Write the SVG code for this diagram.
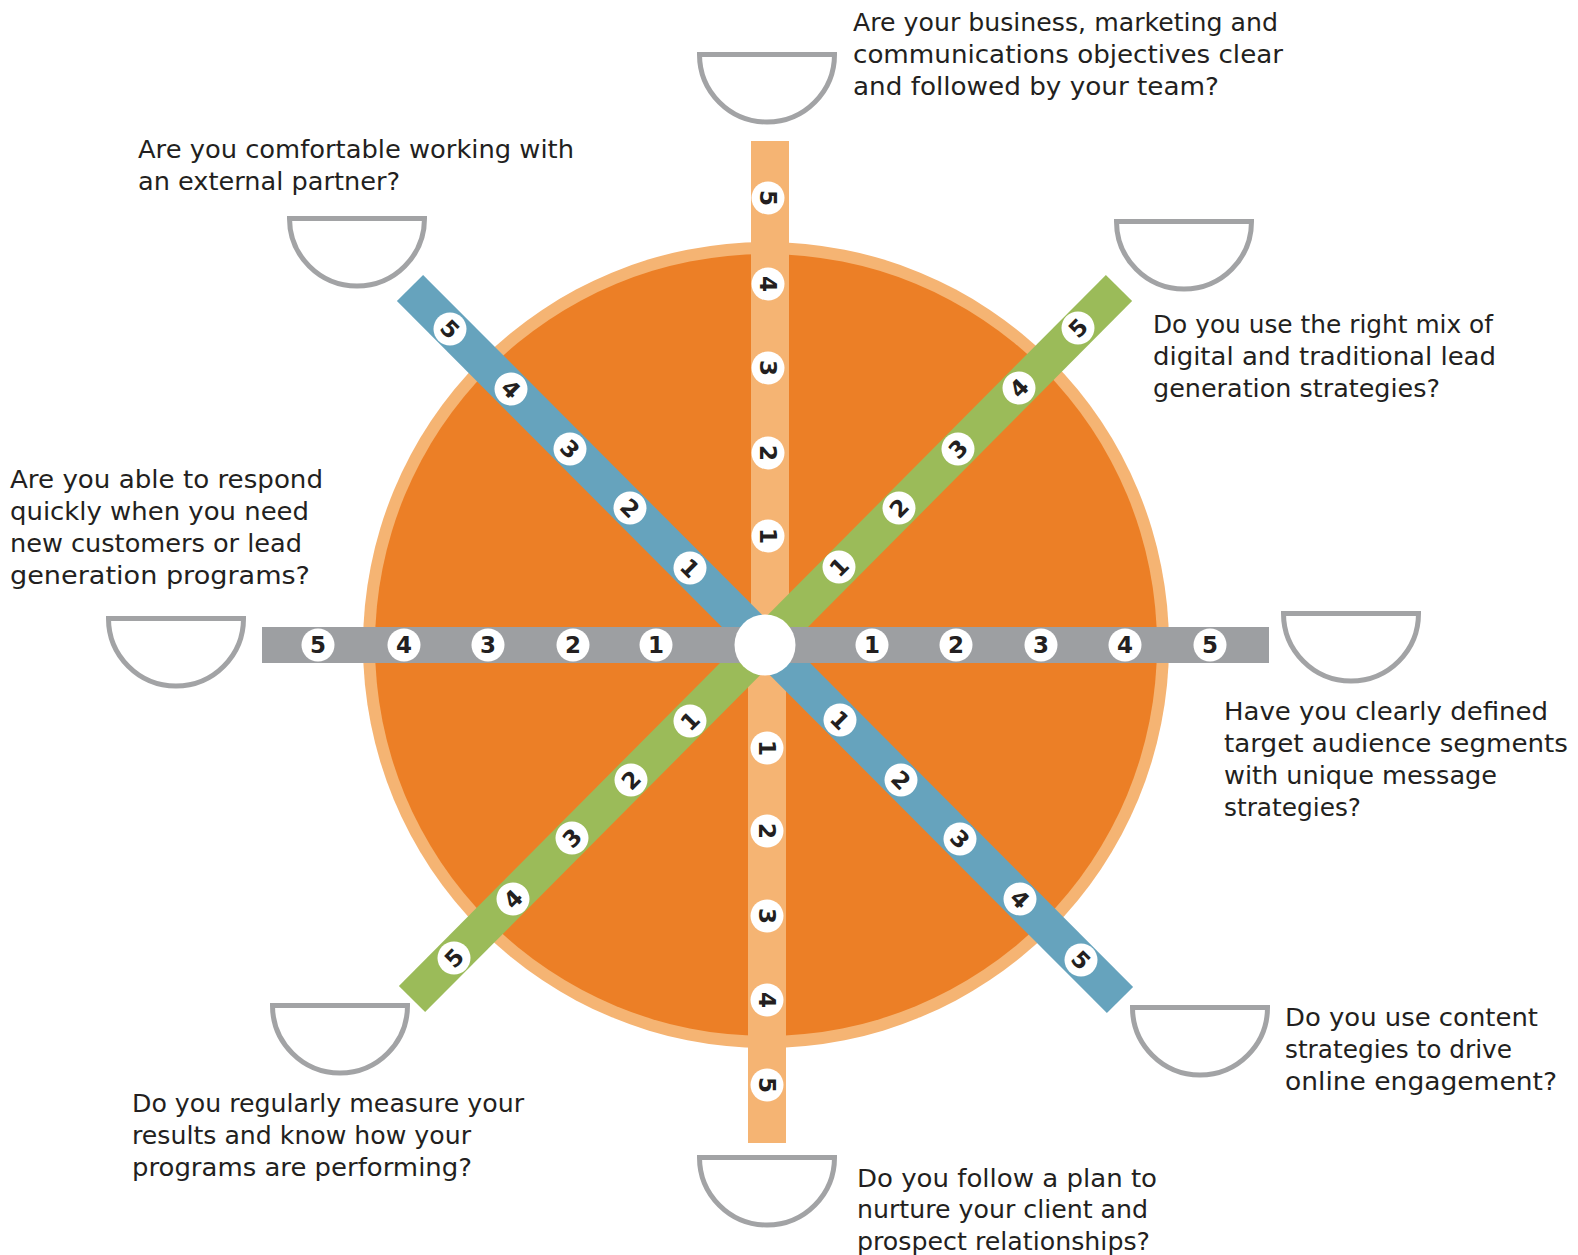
<svg xmlns="http://www.w3.org/2000/svg" width="1578" height="1255" viewBox="0 0 1578 1255">
<style>
.q{font-family:"DejaVu Sans","Liberation Sans",Arial,sans-serif;font-size:24px;fill:#231F20}
.bowl{fill:#FFFFFF;stroke:#A2A3A5;stroke-width:5}
.badge circle{fill:#FFFFFF}
.badge text{font-family:"DejaVu Sans",Verdana,sans-serif;font-weight:bold;font-size:23px;fill:#231F20;text-anchor:middle}
</style>
<rect width="1578" height="1255" fill="#FFFFFF"/>
<g id="wheel">
<circle cx="766" cy="645" r="403" fill="#F5B473"/>
<circle cx="766" cy="645" r="391" fill="#EC7F26"/>
</g>
<g id="connectors">
<rect x="751" y="141" width="38" height="504" fill="#F5B473"/>
<rect x="748" y="645" width="38" height="498" fill="#F5B473"/>
<line x1="410" y1="288" x2="1120" y2="1000" stroke="#66A3BD" stroke-width="37"/>
<line x1="412" y1="999" x2="1119" y2="288" stroke="#9BBB59" stroke-width="37"/>
<rect x="262" y="627" width="1007" height="36" fill="#9D9FA2"/>
<circle cx="765" cy="645" r="30.5" fill="#FFFFFF"/>
</g>
<g id="badges">
<g class="badge" transform="translate(768,198) rotate(90)"><circle r="16.5"/><text y="8.3">5</text></g>
<g class="badge" transform="translate(768,284) rotate(90)"><circle r="16.5"/><text y="8.3">4</text></g>
<g class="badge" transform="translate(768,368) rotate(90)"><circle r="16.5"/><text y="8.3">3</text></g>
<g class="badge" transform="translate(768,453) rotate(90)"><circle r="16.5"/><text y="8.3">2</text></g>
<g class="badge" transform="translate(768,536) rotate(90)"><circle r="16.5"/><text y="8.3">1</text></g>
<g class="badge" transform="translate(767,748) rotate(90)"><circle r="16.5"/><text y="8.3">1</text></g>
<g class="badge" transform="translate(767,831) rotate(90)"><circle r="16.5"/><text y="8.3">2</text></g>
<g class="badge" transform="translate(767,916) rotate(90)"><circle r="16.5"/><text y="8.3">3</text></g>
<g class="badge" transform="translate(767,1000) rotate(90)"><circle r="16.5"/><text y="8.3">4</text></g>
<g class="badge" transform="translate(767,1085) rotate(90)"><circle r="16.5"/><text y="8.3">5</text></g>
<g class="badge" transform="translate(318,645)"><circle r="16.5"/><text y="8.3">5</text></g>
<g class="badge" transform="translate(404,645)"><circle r="16.5"/><text y="8.3">4</text></g>
<g class="badge" transform="translate(488,645)"><circle r="16.5"/><text y="8.3">3</text></g>
<g class="badge" transform="translate(573,645)"><circle r="16.5"/><text y="8.3">2</text></g>
<g class="badge" transform="translate(656,645)"><circle r="16.5"/><text y="8.3">1</text></g>
<g class="badge" transform="translate(872,645)"><circle r="16.5"/><text y="8.3">1</text></g>
<g class="badge" transform="translate(956,645)"><circle r="16.5"/><text y="8.3">2</text></g>
<g class="badge" transform="translate(1041,645)"><circle r="16.5"/><text y="8.3">3</text></g>
<g class="badge" transform="translate(1125,645)"><circle r="16.5"/><text y="8.3">4</text></g>
<g class="badge" transform="translate(1210,645)"><circle r="16.5"/><text y="8.3">5</text></g>
<g class="badge" transform="translate(450,329) rotate(45)"><circle r="16.5"/><text y="8.3">5</text></g>
<g class="badge" transform="translate(511,389) rotate(45)"><circle r="16.5"/><text y="8.3">4</text></g>
<g class="badge" transform="translate(570,449) rotate(45)"><circle r="16.5"/><text y="8.3">3</text></g>
<g class="badge" transform="translate(630,508) rotate(45)"><circle r="16.5"/><text y="8.3">2</text></g>
<g class="badge" transform="translate(690,568) rotate(45)"><circle r="16.5"/><text y="8.3">1</text></g>
<g class="badge" transform="translate(840,720) rotate(45)"><circle r="16.5"/><text y="8.3">1</text></g>
<g class="badge" transform="translate(901,780) rotate(45)"><circle r="16.5"/><text y="8.3">2</text></g>
<g class="badge" transform="translate(960,839) rotate(45)"><circle r="16.5"/><text y="8.3">3</text></g>
<g class="badge" transform="translate(1020,899) rotate(45)"><circle r="16.5"/><text y="8.3">4</text></g>
<g class="badge" transform="translate(1081,960) rotate(45)"><circle r="16.5"/><text y="8.3">5</text></g>
<g class="badge" transform="translate(839,567) rotate(-45)"><circle r="16.5"/><text y="8.3">1</text></g>
<g class="badge" transform="translate(899,508) rotate(-45)"><circle r="16.5"/><text y="8.3">2</text></g>
<g class="badge" transform="translate(958,449) rotate(-45)"><circle r="16.5"/><text y="8.3">3</text></g>
<g class="badge" transform="translate(1019,388) rotate(-45)"><circle r="16.5"/><text y="8.3">4</text></g>
<g class="badge" transform="translate(1078,328) rotate(-45)"><circle r="16.5"/><text y="8.3">5</text></g>
<g class="badge" transform="translate(690,721) rotate(-45)"><circle r="16.5"/><text y="8.3">1</text></g>
<g class="badge" transform="translate(631,780) rotate(-45)"><circle r="16.5"/><text y="8.3">2</text></g>
<g class="badge" transform="translate(572,838) rotate(-45)"><circle r="16.5"/><text y="8.3">3</text></g>
<g class="badge" transform="translate(513,899) rotate(-45)"><circle r="16.5"/><text y="8.3">4</text></g>
<g class="badge" transform="translate(454,958) rotate(-45)"><circle r="16.5"/><text y="8.3">5</text></g>
</g>
<g id="q-top">
<path class="bowl" d="M699.5 54.5 H834.5 A67.5 67.5 0 0 1 699.5 54.5 Z"/>
<text class="q" x="853" y="31" textLength="425" lengthAdjust="spacingAndGlyphs">Are your business, marketing and</text>
<text class="q" x="853" y="63" textLength="430" lengthAdjust="spacingAndGlyphs">communications objectives clear</text>
<text class="q" x="853" y="95" textLength="366" lengthAdjust="spacingAndGlyphs">and followed by your team?</text>
</g>
<g id="q-top-left">
<path class="bowl" d="M289.5 218.5 H424.5 A67.5 67.5 0 0 1 289.5 218.5 Z"/>
<text class="q" x="138" y="158" textLength="436" lengthAdjust="spacingAndGlyphs">Are you comfortable working with</text>
<text class="q" x="138" y="190" textLength="262" lengthAdjust="spacingAndGlyphs">an external partner?</text>
</g>
<g id="q-top-right">
<path class="bowl" d="M1116.5 221.5 H1251.5 A67.5 67.5 0 0 1 1116.5 221.5 Z"/>
<text class="q" x="1153" y="333" textLength="340" lengthAdjust="spacingAndGlyphs">Do you use the right mix of</text>
<text class="q" x="1153" y="365" textLength="343" lengthAdjust="spacingAndGlyphs">digital and traditional lead</text>
<text class="q" x="1153" y="397" textLength="287" lengthAdjust="spacingAndGlyphs">generation strategies?</text>
</g>
<g id="q-left">
<path class="bowl" d="M108.5 618.5 H243.5 A67.5 67.5 0 0 1 108.5 618.5 Z"/>
<text class="q" x="10" y="488" textLength="313" lengthAdjust="spacingAndGlyphs">Are you able to respond</text>
<text class="q" x="10" y="520" textLength="299" lengthAdjust="spacingAndGlyphs">quickly when you need</text>
<text class="q" x="10" y="552" textLength="292" lengthAdjust="spacingAndGlyphs">new customers or lead</text>
<text class="q" x="10" y="584" textLength="300" lengthAdjust="spacingAndGlyphs">generation programs?</text>
</g>
<g id="q-right">
<path class="bowl" d="M1283.5 613.5 H1418.5 A67.5 67.5 0 0 1 1283.5 613.5 Z"/>
<text class="q" x="1224" y="720" textLength="324" lengthAdjust="spacingAndGlyphs">Have you clearly defined</text>
<text class="q" x="1224" y="752" textLength="344" lengthAdjust="spacingAndGlyphs">target audience segments</text>
<text class="q" x="1224" y="784" textLength="273" lengthAdjust="spacingAndGlyphs">with unique message</text>
<text class="q" x="1224" y="816" textLength="137" lengthAdjust="spacingAndGlyphs">strategies?</text>
</g>
<g id="q-bottom-right">
<path class="bowl" d="M1132.5 1007.5 H1267.5 A67.5 67.5 0 0 1 1132.5 1007.5 Z"/>
<text class="q" x="1285" y="1026" textLength="253" lengthAdjust="spacingAndGlyphs">Do you use content</text>
<text class="q" x="1285" y="1058" textLength="227" lengthAdjust="spacingAndGlyphs">strategies to drive</text>
<text class="q" x="1285" y="1090" textLength="272" lengthAdjust="spacingAndGlyphs">online engagement?</text>
</g>
<g id="q-bottom-left">
<path class="bowl" d="M272.5 1005.5 H407.5 A67.5 67.5 0 0 1 272.5 1005.5 Z"/>
<text class="q" x="132" y="1112" textLength="392" lengthAdjust="spacingAndGlyphs">Do you regularly measure your</text>
<text class="q" x="132" y="1144" textLength="339" lengthAdjust="spacingAndGlyphs">results and know how your</text>
<text class="q" x="132" y="1176" textLength="340" lengthAdjust="spacingAndGlyphs">programs are performing?</text>
</g>
<g id="q-bottom">
<path class="bowl" d="M699.5 1157.5 H834.5 A67.5 67.5 0 0 1 699.5 1157.5 Z"/>
<text class="q" x="857" y="1187" textLength="300" lengthAdjust="spacingAndGlyphs">Do you follow a plan to</text>
<text class="q" x="857" y="1218" textLength="291" lengthAdjust="spacingAndGlyphs">nurture your client and</text>
<text class="q" x="857" y="1250" textLength="293" lengthAdjust="spacingAndGlyphs">prospect relationships?</text>
</g>
</svg>
